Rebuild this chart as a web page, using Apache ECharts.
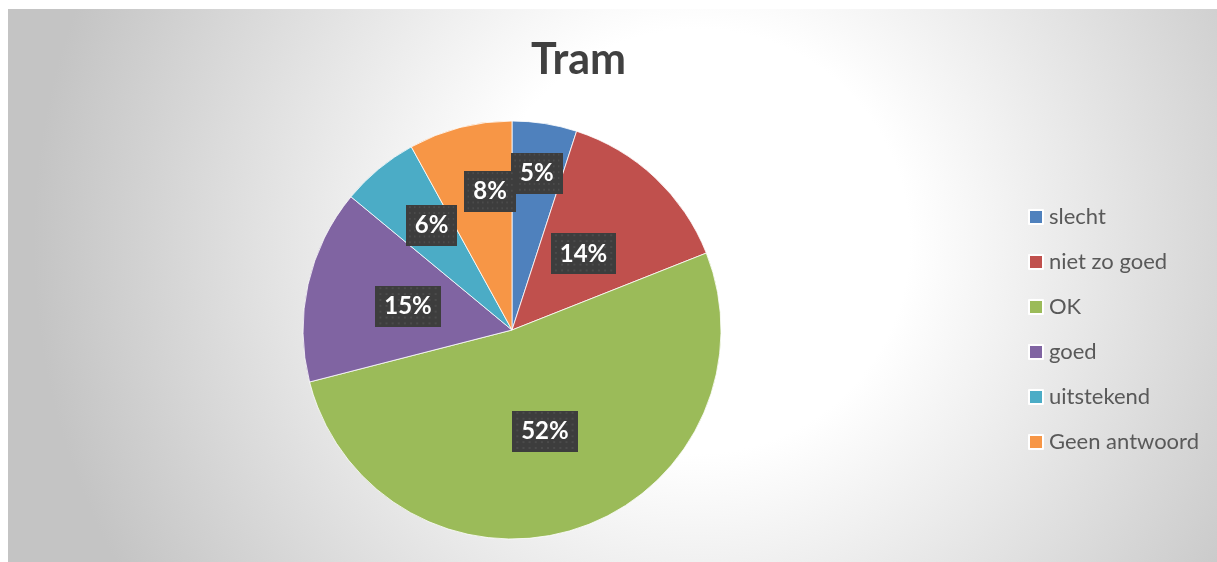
<!DOCTYPE html>
<html>
<head>
<meta charset="utf-8">
<script src="https://cdn.jsdelivr.net/npm/echarts@6/dist/echarts.min.js"></script>
<style>
html,body{margin:0;padding:0;background:#fff;}
#chart{width:1217px;height:562px;}
</style>
</head>
<body>
<div id="chart"></div>
<script>
// ---- data ----
const titleText = 'Tram';
const categories = ['slecht', 'niet zo goed', 'OK', 'goed', 'uitstekend', 'Geen antwoord'];
const values = [5, 14, 52, 15, 6, 8];
const colors = ['#4F81BD', '#C0504D', '#9BBB59', '#8064A2', '#4BACC6', '#F79646'];

// ---- layout / style config ----
const CX = 512, CY = 330, R = 209;
const labelRadiusFrac = [0.76, 0.5, 0.51, 0.51, 0.63, 0.67];
const labelAngleNudge = [0, 0, 0, 0, 2, 5.4];

// dotted dark label background
function makePattern() {
  const c = document.createElement('canvas');
  c.width = 64; c.height = 42;
  const g = c.getContext('2d');
  g.fillStyle = '#3d3d3d';
  g.fillRect(0, 0, 64, 42);
  g.fillStyle = '#505050';
  for (let y = 2; y < 42; y += 6) {
    for (let x = (y / 6) % 2 ? 5 : 2; x < 64; x += 6) {
      g.beginPath(); g.arc(x, y, 1, 0, Math.PI * 2); g.fill();
    }
  }
  return c;
}
const pattern = makePattern();

const total = values.reduce((a, b) => a + b, 0);
const midAngles = [];
let acc = 0;
values.forEach(v => { midAngles.push((acc + v / 2) / total * 360); acc += v; });

const chart = echarts.init(document.getElementById('chart'), null, {renderer: 'canvas'});
chart.setOption({
  animation: false,
  color: colors,
  graphic: [{
    type: 'rect',
    z: -10,
    shape: {x: 8, y: 9, width: 1209, height: 553},
    style: {
      fill: {
        type: 'radial', x: 0.57, y: 0.42, r: 1.2,
        colorStops: [
          {offset: 0, color: '#ffffff'},
          {offset: 0.32, color: '#ffffff'},
          {offset: 1, color: '#c4c4c4'}
        ]
      }
    },
    silent: true
  }],
  title: {
    text: titleText,
    left: 531,
    top: 39,
    padding: 0,
    textStyle: {fontFamily: 'Lato', fontWeight: 'bold', fontSize: 43, color: '#404040'}
  },
  legend: {
    orient: 'vertical',
    left: 1028,
    top: 206,
    padding: 0,
    itemWidth: 14,
    itemHeight: 14,
    itemGap: 23,
    icon: 'rect',
    data: categories,
    textStyle: {fontFamily: 'Lato', fontSize: 22, lineHeight: 22, color: '#595959', padding: [0, 0, 0, 1]}
  },
  series: [{
    type: 'pie',
    center: [CX, CY],
    radius: R,
    startAngle: 90,
    clockwise: true,
    avoidLabelOverlap: false,
    itemStyle: {borderColor: '#ffffff', borderWidth: 0.8},
    label: {
      show: true,
      position: 'inside',
      formatter: p => p.value + '%',
      fontFamily: 'Lato',
      fontWeight: 'bold',
      fontSize: 24,
      lineHeight: 24,
      color: '#ffffff',
      backgroundColor: {image: pattern},
      padding: [9, 9, 8, 9],
      shadowColor: 'rgba(0,0,0,0.55)',
      shadowBlur: 6,
      shadowOffsetX: 3,
      shadowOffsetY: 3
    },
    labelLayout: function (params) {
      const i = params.dataIndex;
      const a = (midAngles[i] + labelAngleNudge[i]) * Math.PI / 180;
      const rr = R * labelRadiusFrac[i];
      return {
        x: CX + rr * Math.sin(a),
        y: CY - rr * Math.cos(a),
        align: 'center',
        verticalAlign: 'middle'
      };
    },
    emphasis: {disabled: true},
    data: categories.map((c, i) => ({name: c, value: values[i]}))
  }]
});
</script>
</body>
</html>
